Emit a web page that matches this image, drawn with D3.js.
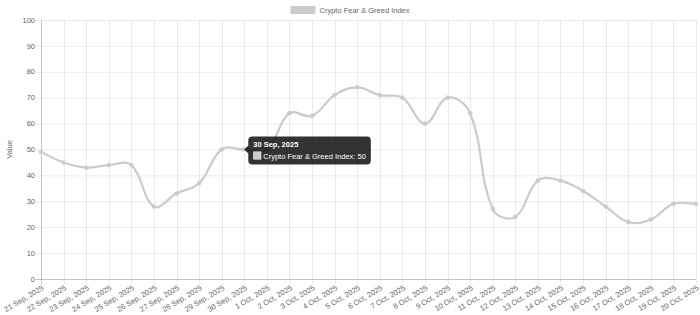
<!DOCTYPE html>
<html>
<head>
<meta charset="utf-8">
<script src="https://cdn.jsdelivr.net/npm/d3@7/dist/d3.min.js"></script>
<style>
  html, body { margin: 0; padding: 0; background: #fff; }
  svg { display: block; font-family: "Liberation Sans", Arial, Helvetica, sans-serif; }
</style>
</head>
<body>
<svg id="chart" width="700" height="315"></svg>
<script>
const dates = [
  "21 Sep, 2025","22 Sep, 2025","23 Sep, 2025","24 Sep, 2025","25 Sep, 2025",
  "26 Sep, 2025","27 Sep, 2025","28 Sep, 2025","29 Sep, 2025","30 Sep, 2025",
  "1 Oct, 2025","2 Oct, 2025","3 Oct, 2025","4 Oct, 2025","5 Oct, 2025",
  "6 Oct, 2025","7 Oct, 2025","8 Oct, 2025","9 Oct, 2025","10 Oct, 2025",
  "11 Oct, 2025","12 Oct, 2025","13 Oct, 2025","14 Oct, 2025","15 Oct, 2025",
  "16 Oct, 2025","17 Oct, 2025","18 Oct, 2025","19 Oct, 2025","20 Oct, 2025"
];
const values = [49,45,43,44,44,28,33,37,50,50,50,64,63,71,74,71,70,60,70,64,27,24,38,38,34,28,22,23,29,29];
const yTicks = [0,10,20,30,40,50,60,70,80,90,100];
const seriesName = "Crypto Fear & Greed Index";
const yTitle = "Value";
const tooltipIndex = 9;

const W = 700, H = 315;
const plot = { left: 41, right: 696, top: 20, bottom: 279 };
const lineColor = "#c9cbcf";
const gridColor = "rgba(0,0,0,0.08)";
const textColor = "#666";
const fs = 7.5;

const svg = d3.select("#chart");
const x = d3.scalePoint().domain(dates).range([plot.left, plot.right]);
const y = d3.scaleLinear().domain([0, 100]).range([plot.bottom, plot.top]);

// grid lines (horizontal) with tick marks
const gH = svg.append("g");
gH.selectAll("line").data(yTicks).join("line")
  .attr("x1", plot.left - 5).attr("x2", plot.right)
  .attr("y1", d => y(d) + 0.5).attr("y2", d => y(d) + 0.5)
  .attr("stroke", gridColor).attr("stroke-width", 1);
// vertical grid lines
const gV = svg.append("g");
gV.selectAll("line").data(dates).join("line")
  .attr("x1", d => Math.round(x(d)) + 0.5).attr("x2", d => Math.round(x(d)) + 0.5)
  .attr("y1", plot.top).attr("y2", plot.bottom + 5)
  .attr("stroke", gridColor).attr("stroke-width", 1);

// axis lines
svg.append("line").attr("x1", plot.left + 0.5).attr("x2", plot.left + 0.5)
  .attr("y1", plot.top).attr("y2", plot.bottom + 5)
  .attr("stroke", "rgba(0,0,0,0.16)");
svg.append("line").attr("x1", plot.left - 5).attr("x2", plot.right)
  .attr("y1", plot.bottom + 0.5).attr("y2", plot.bottom + 0.5)
  .attr("stroke", "rgba(0,0,0,0.16)");

// y tick labels
svg.append("g").selectAll("text").data(yTicks).join("text")
  .attr("x", plot.left - 6).attr("y", d => y(d))
  .attr("dy", "0.35em").attr("text-anchor", "end")
  .attr("font-size", fs).attr("fill", textColor)
  .text(d => d);

// x tick labels
svg.append("g").selectAll("text").data(dates).join("text")
  .attr("transform", d => `translate(${x(d) + 2},${plot.bottom + 8}) rotate(-31)`)
  .attr("text-anchor", "end").attr("dy", "0.35em")
  .attr("font-size", fs).attr("fill", textColor)
  .text(d => d);

// y title
svg.append("text")
  .attr("transform", `translate(12,${(plot.top + plot.bottom) / 2}) rotate(-90)`)
  .attr("text-anchor", "middle").attr("font-size", fs).attr("fill", textColor)
  .text(yTitle);

// legend
const legendText = svg.append("text")
  .attr("font-size", fs).attr("fill", textColor)
  .attr("y", 10).attr("dy", "0.35em").text(seriesName);
const tw = legendText.node().getComputedTextLength();
const boxW = 25, gap = 4;
const lx = (W - (boxW + gap + tw)) / 2;
svg.append("rect").attr("x", lx).attr("y", 6).attr("width", boxW).attr("height", 8)
  .attr("fill", lineColor);
legendText.attr("x", lx + boxW + gap);

// line with Chart.js-like spline (tension 0.4)
const pts = values.map((v, i) => [x(dates[i]), y(v)]);
const t = 0.4;
const clampX = v => Math.max(plot.left, Math.min(plot.right, v));
const clampY = v => Math.max(plot.top, Math.min(plot.bottom, v));
const cps = pts.map((cur, i) => {
  const prev = pts[i - 1] || cur, next = pts[i + 1] || cur;
  const d01 = Math.hypot(cur[0] - prev[0], cur[1] - prev[1]);
  const d12 = Math.hypot(next[0] - cur[0], next[1] - cur[1]);
  let s01 = d01 / (d01 + d12), s12 = d12 / (d01 + d12);
  if (!isFinite(s01)) s01 = 0; if (!isFinite(s12)) s12 = 0;
  const fa = t * s01, fb = t * s12;
  return {
    prev: [clampX(cur[0] - fa * (next[0] - prev[0])), clampY(cur[1] - fa * (next[1] - prev[1]))],
    next: [clampX(cur[0] + fb * (next[0] - prev[0])), clampY(cur[1] + fb * (next[1] - prev[1]))]
  };
});
const path = d3.path();
path.moveTo(pts[0][0], pts[0][1]);
for (let i = 1; i < pts.length; i++) {
  path.bezierCurveTo(cps[i - 1].next[0], cps[i - 1].next[1], cps[i].prev[0], cps[i].prev[1], pts[i][0], pts[i][1]);
}
svg.append("path").attr("d", path.toString())
  .attr("fill", "none").attr("stroke", lineColor).attr("stroke-width", 2.2)
  .attr("stroke-linejoin", "round");

svg.append("g").selectAll("circle").data(values).join("circle")
  .attr("cx", (d, i) => x(dates[i])).attr("cy", d => y(d)).attr("r", 2)
  .attr("fill", lineColor).attr("stroke", lineColor).attr("stroke-width", 0.6);

// tooltip
const tx = x(dates[tooltipIndex]), ty = y(values[tooltipIndex]);
const tip = svg.append("g");
const bx = tx + 4, bw = 120, bh = 28, by = ty - bh / 2 + 1;
const caret = 4;
const bg = tip.append("path");
const title = tip.append("text").attr("x", bx + 5).attr("y", by + 10)
  .attr("font-size", fs).attr("font-weight", "bold").attr("fill", "#fff")
  .text(dates[tooltipIndex]);
const bodyText = tip.append("text").attr("x", bx + 5 + 10).attr("y", by + 22)
  .attr("font-size", fs).attr("fill", "#fff")
  .text(`${seriesName}: ${values[tooltipIndex]}`);
const bodyW = bodyText.node().getComputedTextLength() + 10 + 10;
const realW = Math.max(bw, bodyW);
const r = 4;
const p = d3.path();
p.moveTo(bx + r, by);
p.lineTo(bx + realW - r, by);
p.quadraticCurveTo(bx + realW, by, bx + realW, by + r);
p.lineTo(bx + realW, by + bh - r);
p.quadraticCurveTo(bx + realW, by + bh, bx + realW - r, by + bh);
p.lineTo(bx + r, by + bh);
p.quadraticCurveTo(bx, by + bh, bx, by + bh - r);
p.lineTo(bx, ty + caret);
p.lineTo(bx - caret, ty);
p.lineTo(bx, ty - caret);
p.lineTo(bx, by + r);
p.quadraticCurveTo(bx, by, bx + r, by);
p.closePath();
bg.attr("d", p.toString()).attr("fill", "rgba(0,0,0,0.8)");
tip.append("rect").attr("x", bx + 5).attr("y", by + 15).attr("width", 8).attr("height", 8)
  .attr("fill", "#fff");
tip.append("rect").attr("x", bx + 5.5).attr("y", by + 15.5).attr("width", 7).attr("height", 7)
  .attr("fill", lineColor);
bg.lower();
</script>
</body>
</html>
